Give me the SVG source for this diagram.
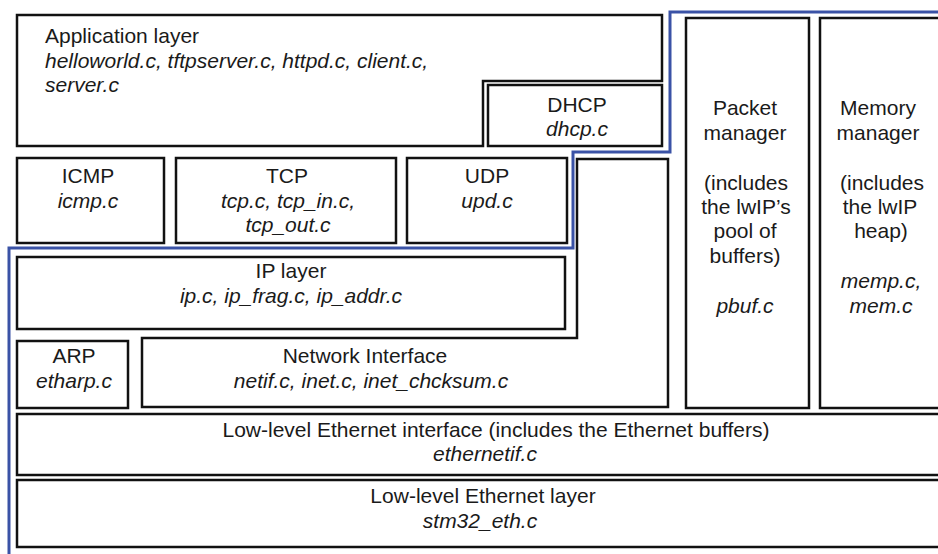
<svg xmlns="http://www.w3.org/2000/svg" width="938" height="554" viewBox="0 0 938 554">
  <style>
    .box { fill: #ffffff; stroke: #111111; stroke-width: 2.5; }
    .t { font-family: "Liberation Sans", Arial, sans-serif; font-size: 21px; fill: #1a1a1a; }
    .c { text-anchor: middle; }
    .i { font-style: italic; }
    .blue { fill: none; stroke: #3a52a6; stroke-width: 3; }
  </style>
  <rect x="0" y="0" width="938" height="554" fill="#ffffff"/>

  <g id="app">
    <path class="box" d="M17 15 H662 V81 H483 V146 H17 Z"/>
    <text class="t" x="45" y="43">Application layer</text>
    <text class="t i" x="45" y="68">helloworld.c, tftpserver.c, httpd.c, client.c,</text>
    <text class="t i" x="45" y="92">server.c</text>
  </g>

  <g id="dhcp">
    <rect class="box" x="488" y="85" width="174" height="61"/>
    <text class="t c" x="577" y="112">DHCP</text>
    <text class="t c i" x="577" y="136">dhcp.c</text>
  </g>

  <g id="icmp">
    <rect class="box" x="17" y="158" width="147" height="85"/>
    <text class="t c" x="88" y="183">ICMP</text>
    <text class="t c i" x="88" y="208">icmp.c</text>
  </g>

  <g id="tcp">
    <rect class="box" x="176" y="158" width="220" height="85"/>
    <text class="t c" x="287" y="183">TCP</text>
    <text class="t c i" x="288" y="208">tcp.c, tcp_in.c,</text>
    <text class="t c i" x="288" y="232">tcp_out.c</text>
  </g>

  <g id="udp">
    <rect class="box" x="407" y="158" width="160" height="85"/>
    <text class="t c" x="487" y="183">UDP</text>
    <text class="t c i" x="487" y="208">upd.c</text>
  </g>

  <g id="ip">
    <rect class="box" x="17" y="257" width="548" height="72"/>
    <text class="t c" x="291" y="278">IP layer</text>
    <text class="t c i" x="291" y="303">ip.c, ip_frag.c, ip_addr.c</text>
  </g>

  <g id="arp">
    <rect class="box" x="17" y="341" width="111" height="67"/>
    <text class="t c" x="74" y="363">ARP</text>
    <text class="t c i" x="74" y="388">etharp.c</text>
  </g>

  <g id="netif">
    <path class="box" d="M142 338 H577 V159 H668 V407 H142 Z"/>
    <text class="t c" x="365" y="363">Network Interface</text>
    <text class="t c i" x="371" y="388">netif.c, inet.c, inet_chcksum.c</text>
  </g>

  <g id="packet">
    <rect class="box" x="686" y="18" width="123" height="390"/>
    <text class="t c" x="745" y="115">Packet</text>
    <text class="t c" x="745" y="140">manager</text>
    <text class="t c" x="746" y="190">(includes</text>
    <text class="t c" x="746" y="214">the lwIP’s</text>
    <text class="t c" x="745" y="238">pool of</text>
    <text class="t c" x="745" y="263">buffers)</text>
    <text class="t c i" x="745" y="313">pbuf.c</text>
  </g>

  <g id="memory">
    <rect class="box" x="820" y="18" width="125" height="390"/>
    <text class="t c" x="878" y="115">Memory</text>
    <text class="t c" x="878" y="140">manager</text>
    <text class="t c" x="882" y="190">(includes</text>
    <text class="t c" x="880" y="214">the lwIP</text>
    <text class="t c" x="881" y="238">heap)</text>
    <text class="t c i" x="881" y="288">memp.c,</text>
    <text class="t c i" x="881" y="313">mem.c</text>
  </g>

  <g id="ethif">
    <rect class="box" x="17" y="414" width="930" height="61"/>
    <text class="t c" x="496" y="437">Low-level Ethernet interface (includes the Ethernet buffers)</text>
    <text class="t c i" x="485" y="461">ethernetif.c</text>
  </g>

  <g id="ethlayer">
    <rect class="box" x="17" y="480" width="930" height="67"/>
    <text class="t c" x="483" y="503">Low-level Ethernet layer</text>
    <text class="t c i" x="480" y="528">stm32_eth.c</text>
  </g>

  <g id="connectors">
    <path class="blue" d="M940 12 H670 V152 H573 V248 H9 V556"/>
  </g>
</svg>
